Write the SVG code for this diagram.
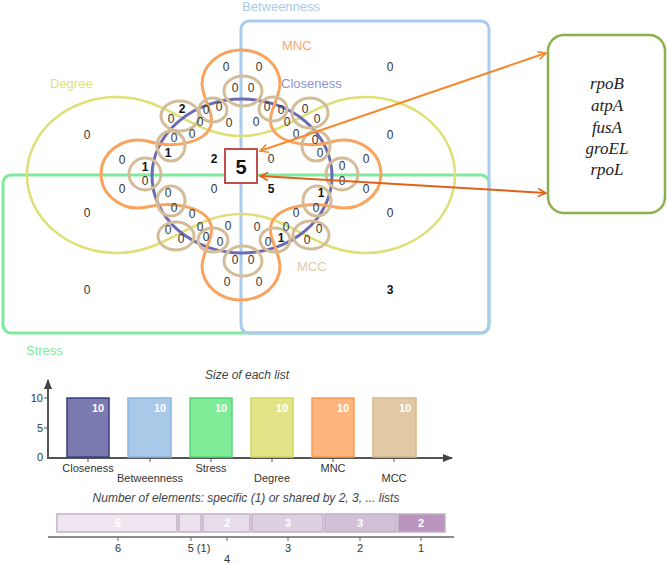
<svg xmlns="http://www.w3.org/2000/svg" width="668" height="564" viewBox="0 0 668 564">
<defs>
<style>
text{font-family:"Liberation Sans",Arial,sans-serif}
.n{font-size:12px;fill:#333;text-anchor:middle;dominant-baseline:central}
.b{font-weight:bold;fill:#111}
.lab{font-size:13px;dominant-baseline:central}
.mcc{fill:none;stroke:#d4bc98;stroke-width:3}
.gene{font-family:"Liberation Serif","Times New Roman",serif;font-style:italic;font-size:17px;fill:#222;text-anchor:middle;dominant-baseline:central}
.ax{stroke:#555;stroke-width:2;fill:none}
.tk{font-size:11px;fill:#333;dominant-baseline:central}
.bl{font-size:11px;fill:#333;text-anchor:middle;dominant-baseline:central}
.ten{font-size:11px;font-weight:bold;fill:#fff;text-anchor:middle;dominant-baseline:central}
.seg{stroke:#c4aec8;stroke-width:1.5}
.sl{font-size:11px;font-weight:bold;fill:#fff;text-anchor:middle;dominant-baseline:central}
</style>
<marker id="ha" viewBox="0 0 10 10" refX="9" refY="5" markerWidth="5" markerHeight="5" orient="auto-start-reverse" markerUnits="strokeWidth"><path d="M1,1 L9,5 L1,9" fill="none" stroke="#f5892f" stroke-width="1.6"/></marker>
<marker id="hb" viewBox="0 0 10 10" refX="9" refY="5" markerWidth="5" markerHeight="5" orient="auto-start-reverse" markerUnits="strokeWidth"><path d="M1,1 L9,5 L1,9" fill="none" stroke="#e2611a" stroke-width="1.6"/></marker>
<marker id="axh" viewBox="0 0 10 10" refX="9" refY="5" markerWidth="5" markerHeight="5" orient="auto"><path d="M0,1 L10,5 L0,9 Z" fill="#444"/></marker>
</defs>
<rect width="668" height="564" fill="#fff"/>

<g id="venn">
<g id="stress"><rect x="3" y="175" width="486" height="158" rx="8" fill="none" stroke="#80ea9c" stroke-width="3"/><text class="lab" x="26" y="350" fill="#80ea9c">Stress</text></g>
<g id="betweenness"><rect x="241" y="21" width="248" height="312" rx="8" fill="none" stroke="#a9cbec" stroke-width="3"/><text class="lab" x="242" y="6" fill="#a9cbec">Betweenness</text></g>
<g id="degree"><path d="M117,97 C168,97 192,136 241,136 C290,136 314,97 365,97 A90,78 0 0 1 365,253 C314,253 290,214 241,214 C192,214 168,253 117,253 A90,78 0 0 1 117,97 Z" fill="none" stroke="#dfdf76" stroke-width="2.5"/><text class="lab" x="50" y="83" fill="#e0e07e">Degree</text></g>
<g id="closeness"><ellipse cx="242" cy="176" rx="90" ry="77" fill="none" stroke="#6b6bb5" stroke-width="3"/><text class="lab" x="281" y="83" fill="#9393cc">Closeness</text></g>
<g id="mnc"><path d="M202,84 A39,34 0 1 1 280,84 C279,100 268,112 271,125 C275,141 305,150 335,141 A37,34 0 1 1 335,207 C305,200 275,209 271,225 C268,238 279,250 280,266 A39,34 0 1 1 202,266 C203,250 214,238 211,225 C207,209 177,200 147,207 A37,34 0 1 1 147,141 C177,150 207,141 211,125 C214,112 203,100 202,84 Z" fill="none" stroke="#f9a35e" stroke-width="3"/><text class="lab" x="282" y="45" fill="#f9a96b">MNC</text></g>
<g id="mcc">
<ellipse class="mcc" cx="243" cy="91" rx="19" ry="15"/>
<ellipse class="mcc" cx="243" cy="261" rx="19" ry="15"/>
<ellipse class="mcc" cx="145" cy="174" rx="16" ry="16"/>
<ellipse class="mcc" cx="342" cy="174" rx="16" ry="16"/>
<ellipse class="mcc" cx="213" cy="110" rx="14" ry="12"/>
<ellipse class="mcc" cx="180" cy="116" rx="19" ry="15"/>
<ellipse class="mcc" cx="171" cy="146" rx="14" ry="15"/>
<ellipse class="mcc" cx="273" cy="109" rx="14" ry="12"/>
<ellipse class="mcc" cx="310" cy="113" rx="18" ry="15"/>
<ellipse class="mcc" cx="316" cy="146" rx="14" ry="15"/>
<ellipse class="mcc" cx="171" cy="201" rx="14" ry="15"/>
<ellipse class="mcc" cx="176" cy="236" rx="18" ry="14"/>
<ellipse class="mcc" cx="213" cy="240" rx="15" ry="12"/>
<ellipse class="mcc" cx="317" cy="201" rx="14" ry="15"/>
<ellipse class="mcc" cx="311" cy="235" rx="18" ry="14"/>
<ellipse class="mcc" cx="275" cy="240" rx="15" ry="12"/>
<text class="lab" x="297" y="266" fill="#e0cba8">MCC</text>
</g>
<g id="counts">
<text class="n" x="87" y="135">0</text><text class="n" x="87" y="213">0</text><text class="n" x="87" y="290">0</text>
<text class="n" x="390" y="67">0</text><text class="n" x="390" y="135">0</text><text class="n" x="390" y="213">0</text><text class="n b" x="390" y="290">3</text>
<text class="n" x="226" y="67">0</text><text class="n" x="259" y="67">0</text>
<text class="n" x="227" y="282">0</text><text class="n" x="259" y="282">0</text>
<text class="n" x="122" y="160">0</text><text class="n" x="122" y="189">0</text>
<text class="n" x="366" y="159">0</text><text class="n" x="366" y="189">0</text>
<text class="n" x="235" y="88">0</text><text class="n" x="251" y="88">0</text>
<text class="n" x="235" y="260">0</text><text class="n" x="251" y="260">0</text>
<text class="n b" x="145" y="167">1</text><text class="n" x="145" y="181">0</text>
<text class="n" x="342" y="166">0</text><text class="n" x="342" y="181">0</text>
<text class="n b" x="182" y="109">2</text><text class="n" x="171" y="119">0</text><text class="n" x="200" y="122">0</text><text class="n" x="206" y="110">0</text><text class="n" x="219" y="107">0</text><text class="n" x="229" y="123">0</text><text class="n" x="174" y="138">0</text><text class="n" x="192" y="134">0</text><text class="n b" x="168" y="153">1</text>
<text class="n" x="267" y="107">0</text><text class="n" x="281" y="110">0</text><text class="n" x="256" y="122">0</text><text class="n" x="287" y="122">0</text><text class="n" x="305" y="109">0</text><text class="n" x="317" y="119">0</text><text class="n" x="296" y="134">0</text><text class="n" x="315" y="140">0</text><text class="n" x="320" y="153">0</text>
<text class="n" x="168" y="193">0</text><text class="n" x="174" y="208">0</text><text class="n" x="192" y="214">0</text><text class="n" x="200" y="227">0</text><text class="n" x="228" y="226">0</text><text class="n" x="168" y="230">0</text><text class="n" x="181" y="239">0</text><text class="n" x="206" y="237">0</text><text class="n" x="220" y="242">0</text>
<text class="n" x="296" y="213">0</text><text class="n" x="316" y="208">0</text><text class="n b" x="321" y="193">1</text><text class="n" x="257" y="227">0</text><text class="n" x="286" y="227">0</text><text class="n" x="319" y="229">0</text><text class="n" x="268" y="242">0</text><text class="n b" x="281" y="238">1</text><text class="n" x="307" y="240">0</text>
<text class="n b" x="214" y="159">2</text><text class="n" x="214" y="189">0</text><text class="n" x="271" y="159">0</text><text class="n b" x="271" y="189">5</text>
</g>
</g>

<g id="core"><rect x="225" y="149" width="32" height="34" fill="#fff" stroke="#c0504d" stroke-width="2"/><text x="241" y="167" font-family="Liberation Serif,serif" font-size="20" font-weight="bold" fill="#111" text-anchor="middle" dominant-baseline="central">5</text></g>

<g id="genes"><rect x="548" y="35" width="117" height="178" rx="16" fill="#fff" stroke="#8db14a" stroke-width="2.5"/>
<text class="gene" x="607" y="83">rpoB</text><text class="gene" x="607" y="105">atpA</text><text class="gene" x="607" y="127">fusA</text><text class="gene" x="607" y="148">groEL</text><text class="gene" x="607" y="169">rpoL</text></g>

<g id="connectors">
<line x1="260" y1="151" x2="546" y2="53" stroke="#f5892f" stroke-width="2" marker-start="url(#ha)" marker-end="url(#ha)"/>
<line x1="260" y1="176" x2="546" y2="193" stroke="#e2611a" stroke-width="2" marker-start="url(#hb)" marker-end="url(#hb)"/>
</g>

<g id="sizechart">
<text x="247" y="375" font-size="12" font-style="italic" fill="#444" text-anchor="middle" dominant-baseline="central">Size of each list</text>
<line class="ax" x1="48" y1="459" x2="48" y2="380" marker-end="url(#axh)"/>
<line class="ax" x1="47" y1="458" x2="452" y2="458" marker-end="url(#axh)"/>
<g stroke="#555" stroke-width="1"><line x1="44" y1="398" x2="48" y2="398"/><line x1="44" y1="428" x2="48" y2="428"/><line x1="88" y1="458" x2="88" y2="462"/><line x1="150" y1="458" x2="150" y2="462"/><line x1="211" y1="458" x2="211" y2="462"/><line x1="272" y1="458" x2="272" y2="462"/><line x1="333" y1="458" x2="333" y2="462"/><line x1="394" y1="458" x2="394" y2="462"/></g>
<text class="tk" x="43" y="398" text-anchor="end">10</text><text class="tk" x="43" y="428" text-anchor="end">5</text><text class="tk" x="43" y="457" text-anchor="end">0</text>
<rect x="67" y="398" width="42" height="59" fill="#7b7bb1" stroke="#3d3d80" stroke-width="1.5"/>
<rect x="128" y="398" width="43" height="59" fill="#a8c9e8" stroke="#8db6e0" stroke-width="1.5"/>
<rect x="190" y="398" width="42" height="59" fill="#7eeb97" stroke="#5bd87b" stroke-width="1.5"/>
<rect x="251" y="398" width="42" height="59" fill="#e3e487" stroke="#d5d762" stroke-width="1.5"/>
<rect x="312" y="398" width="42" height="59" fill="#fdb67d" stroke="#f79d52" stroke-width="1.5"/>
<rect x="373" y="398" width="43" height="59" fill="#e1c9a6" stroke="#d5b98c" stroke-width="1.5"/>
<text class="ten" x="98" y="408">10</text><text class="ten" x="160" y="408">10</text><text class="ten" x="221" y="408">10</text><text class="ten" x="282" y="408">10</text><text class="ten" x="343" y="408">10</text><text class="ten" x="405" y="408">10</text>
<text class="bl" x="88" y="468">Closeness</text><text class="bl" x="150" y="478">Betweenness</text><text class="bl" x="211" y="468">Stress</text><text class="bl" x="272" y="478">Degree</text><text class="bl" x="333" y="468">MNC</text><text class="bl" x="394" y="478">MCC</text>
</g>

<g id="sharedchart">
<text x="246" y="498" font-size="12" font-style="italic" fill="#444" text-anchor="middle" dominant-baseline="central">Number of elements: specific (1) or shared by 2, 3, ... lists</text>
<rect class="seg" x="57" y="514" width="120" height="18" fill="#efe6f0"/>
<rect class="seg" x="179" y="514" width="22" height="18" fill="#ece2ed"/>
<rect class="seg" x="203" y="514" width="47" height="18" fill="#e7dce9"/>
<rect class="seg" x="252" y="514" width="71" height="18" fill="#ddd0e0"/>
<rect class="seg" x="325" y="514" width="71" height="18" fill="#d2c0d6"/>
<rect class="seg" x="398" y="514" width="47" height="18" fill="#ba96be"/>
<text class="sl" x="118" y="523">5</text><text class="sl" x="227" y="523">2</text><text class="sl" x="288" y="523">3</text><text class="sl" x="360" y="523">3</text><text class="sl" x="421" y="523">2</text>
<line x1="48" y1="537" x2="454" y2="537" stroke="#666" stroke-width="1.5"/>
<g stroke="#666" stroke-width="1"><line x1="118" y1="537" x2="118" y2="541"/><line x1="191" y1="537" x2="191" y2="541"/><line x1="227" y1="537" x2="227" y2="541"/><line x1="288" y1="537" x2="288" y2="541"/><line x1="360" y1="537" x2="360" y2="541"/><line x1="421" y1="537" x2="421" y2="541"/></g>
<text class="bl" x="118" y="548">6</text><text class="bl" x="199" y="548">5 (1)</text><text class="bl" x="227" y="559">4</text><text class="bl" x="288" y="548">3</text><text class="bl" x="360" y="548">2</text><text class="bl" x="421" y="548">1</text>
</g>
</svg>
